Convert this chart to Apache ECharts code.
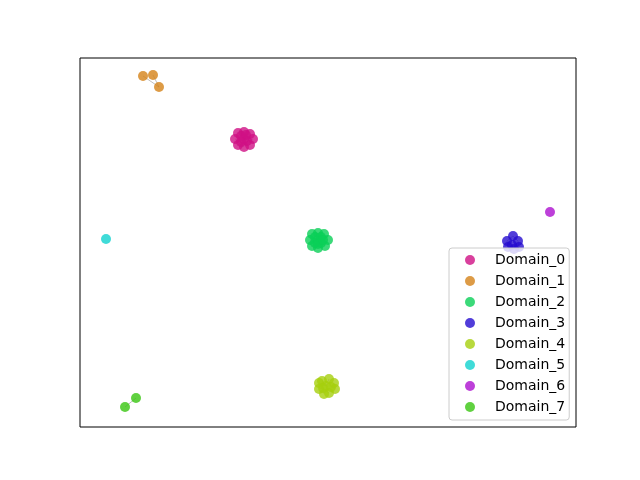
<!DOCTYPE html>
<html><head><meta charset="utf-8">
<script src="https://cdn.jsdelivr.net/npm/echarts@6/dist/echarts.min.js"></script>
<style>html,body{margin:0;padding:0;background:#fff}#c{width:640px;height:480px}</style>
</head><body><div id="c"></div>
<script>
// Data (x, y in arbitrary layout units, y up)
const domains = ['Domain_0','Domain_1','Domain_2','Domain_3','Domain_4','Domain_5','Domain_6','Domain_7'];
const colors = ['rgba(207,16,132,0.8)','rgba(212,130,24,0.8)','rgba(10,208,88,0.8)','rgba(38,12,208,0.8)',
                'rgba(166,208,14,0.8)','rgba(16,210,206,0.8)','rgba(172,16,208,0.8)','rgba(56,198,16,0.8)'];
const d0 = [[164,295],[170,293],[173,288],[170,282],[164,280],[158,282],[155,288],[158,294],[164,288],[161,291],[167,286],[166,292],[161,285]];
const d1 = [[63,351],[73,352],[79,340]];
const d2 = [[238,194],[244,193],[248,187],[245,181],[238,179],[232,181],[230,187],[232,193],[238,187],[235,190],[241,184],[241,190],[235,184],[238,183],[243,187]];
const d3 = [[433,191],[427,186],[438,186],[432,182],[439,180],[428,180],[434,178]];
const d4 = [[249,48],[242,46],[254,44],[255,38],[249,34],[244,33],[239,38],[239,44],[246,41],[251,40],[243,39]];
const d5 = [[26,188]];
const d6 = [[470,215]];
const d7 = [[45,20],[56,29]];
const clusters = [d0,d1,d2,d3,d4,d5,d6,d7];
// edges as index pairs inside each cluster
const edges = [
  [[0,8],[1,9],[2,10],[3,10],[4,12],[5,12],[6,12],[7,9],[8,11]],
  [[0,2],[1,2]],
  [[0,8],[1,11],[2,14],[3,10],[4,13],[5,12],[6,12],[7,9],[8,14]],
  [[0,1],[0,2],[1,5],[2,4],[3,6]],
  [[0,8],[1,8],[2,9],[3,9],[4,10],[5,10],[6,10],[7,8]],
  [],
  [],
  [[0,1]]
];

const edgeData = [];
clusters.forEach((c, k) => {
  edges[k].forEach(([a, b]) => { edgeData.push(c[a], c[b], '-'); });
});

const series = [{
  type: 'line', name: 'edges', data: edgeData, symbol: 'none', silent: true,
  lineStyle: {color: 'rgba(128,128,128,0.5)', width: 1}, z: 1, connectNulls: false
}];
domains.forEach((name, k) => {
  series.push({type: 'scatter', name, data: clusters[k], symbol: 'circle', symbolSize: 10,
    itemStyle: {color: colors[k], opacity: 1}, z: 2});
});

const chart = echarts.init(document.getElementById('c'), null, {renderer: 'canvas'});
chart.setOption({
  animation: false,
  backgroundColor: '#fff',
  grid: {left: 80, top: 58, width: 496, height: 369, show: true, borderColor: '#000', borderWidth: 1, backgroundColor: 'transparent'},
  xAxis: {type: 'value', min: 0, max: 496, axisLine: {show: false}, axisTick: {show: false}, axisLabel: {show: false}, splitLine: {show: false}},
  yAxis: {type: 'value', min: 0, max: 369, axisLine: {show: false}, axisTick: {show: false}, axisLabel: {show: false}, splitLine: {show: false}},
  legend: {
    data: domains, orient: 'vertical', left: 449, top: 248,
    padding: [4, 4, 5, 16], itemGap: 5, itemWidth: 40, itemHeight: 10, icon: 'circle',
    backgroundColor: 'rgba(255,255,255,0.8)', borderColor: '#cccccc', borderWidth: 1, borderRadius: 3,
    textStyle: {fontFamily: 'DejaVu Sans', fontSize: 14, color: '#000', lineHeight: 16},
    z: 10
  },
  series
});
</script></body></html>
